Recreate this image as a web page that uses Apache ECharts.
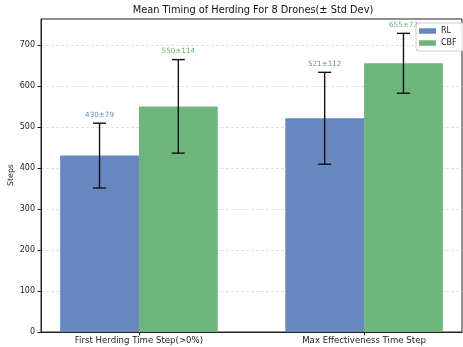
<!DOCTYPE html>
<html>
<head>
<meta charset="utf-8">
<script src="https://cdn.jsdelivr.net/npm/echarts@6/dist/echarts.min.js"></script>
<style>
  html, body { margin: 0; padding: 0; background: #fff; }
  #chart { width: 463px; height: 347px; }
</style>
</head>
<body>
<div id="chart"></div>
<script>
// Group labels along the x axis
const categories = ['First Herding Time Step(>0%)', 'Max Effectiveness Time Step'];
// Mean steps and standard deviation for each method
const rlMean = [430, 521];
const rlStd = [79, 112];
const cbfMean = [550, 655];
const cbfStd = [114, 73];
// Y tick values
const yTicks = [0, 100, 200, 300, 400, 500, 600, 700];

const BAR_W = 0.35;
const FONT = 'DejaVu Sans';
const colors = { RL: '#6788BF', CBF: '#6DB57D' };

function makeData(means, stds) {
  return means.map((m, i) => [i, m, stds[i]]);
}

// offset: -1 for the left bar of a group, 0 for the right bar
function barRenderer(offset, color) {
  return function (params, api) {
    const x = api.value(0), mean = api.value(1), sd = api.value(2);
    const x0 = x + offset * BAR_W, x1 = x0 + BAR_W, xc = x0 + BAR_W / 2;
    const pTop = api.coord([x0, mean]);
    const pBot = api.coord([x1, 0]);
    const eHi = api.coord([xc, mean + sd]);
    const eLo = api.coord([xc, mean - sd]);
    const cap = 6.5;
    return {
      type: 'group',
      children: [
        { type: 'rect', shape: { x: pTop[0], y: pTop[1], width: pBot[0] - pTop[0], height: pBot[1] - pTop[1] },
          style: { fill: color } },
        { type: 'line', shape: { x1: eHi[0], y1: eHi[1], x2: eLo[0], y2: eLo[1] },
          style: { stroke: '#111', lineWidth: 1.4 } },
        { type: 'line', shape: { x1: eHi[0] - cap, y1: eHi[1], x2: eHi[0] + cap, y2: eHi[1] },
          style: { stroke: '#111', lineWidth: 1.4 } },
        { type: 'line', shape: { x1: eLo[0] - cap, y1: eLo[1], x2: eLo[0] + cap, y2: eLo[1] },
          style: { stroke: '#111', lineWidth: 1.4 } },
        { type: 'text', x: eHi[0], y: eHi[1] - 5,
          style: { text: mean + '±' + sd, fill: color, font: '7.2px "' + FONT + '"', align: 'center', verticalAlign: 'bottom' } }
      ]
    };
  };
}

const chart = echarts.init(document.getElementById('chart'), null, { renderer: 'canvas' });
chart.setOption({
  animation: false,
  backgroundColor: '#fff',
  textStyle: { fontFamily: FONT },
  title: {
    text: 'Mean Timing of Herding For 8 Drones(± Std Dev)',
    left: 253, top: 5, textAlign: 'center', padding: 0,
    textStyle: { fontSize: 9.8, fontWeight: 'normal', color: '#111', fontFamily: FONT }
  },
  // Y-axis title, rotated beside the tick labels
  graphic: [{
    type: 'text', x: 11, y: 175, rotation: Math.PI / 2,
    style: { text: 'Steps', fill: '#222', font: '7.8px "' + FONT + '"', align: 'center', verticalAlign: 'middle' }
  }],
  legend: {
    left: 416, top: 23, orient: 'vertical',
    data: [{ name: 'RL', icon: 'rect' }, { name: 'CBF', icon: 'rect' }],
    itemWidth: 17, itemHeight: 5.5, itemGap: 4,
    padding: [4, 8, 4, 3],
    backgroundColor: 'rgba(255,255,255,0.85)', borderColor: '#ccc', borderWidth: 1, borderRadius: 3,
    textStyle: { fontSize: 8, color: '#222', fontFamily: FONT }
  },
  grid: { left: 41, right: 1, top: 19, bottom: 15, containLabel: false, outerBoundsMode: 'none',
          show: true, borderColor: '#222', borderWidth: 1 },
  xAxis: {
    type: 'value', min: -0.435, max: 1.435,
    splitLine: { show: false },
    axisLine: { onZero: false, lineStyle: { color: '#222' } },
    axisTick: { customValues: [0, 1], length: 3.5, lineStyle: { color: '#222' } },
    axisLabel: { customValues: [0, 1], formatter: v => categories[Math.round(v)], fontSize: 8.6, color: '#222', margin: 4 }
  },
  yAxis: {
    type: 'value', min: 0, max: 763,
    axisLine: { show: true, onZero: false, lineStyle: { color: '#222' } },
    axisTick: { show: true, customValues: yTicks, length: 3.5, lineStyle: { color: '#222' } },
    axisLabel: { customValues: yTicks, fontSize: 8, color: '#222', margin: 6 },
    splitLine: { show: true, customValues: yTicks, lineStyle: { color: '#d8d8d8', type: [3, 2], width: 0.8 } }
  },
  series: [
    { name: 'RL', type: 'custom', itemStyle: { color: colors.RL },
      data: makeData(rlMean, rlStd), renderItem: barRenderer(-1, colors.RL), encode: { x: 0, y: 1 } },
    { name: 'CBF', type: 'custom', itemStyle: { color: colors.CBF },
      data: makeData(cbfMean, cbfStd), renderItem: barRenderer(0, colors.CBF), encode: { x: 0, y: 1 } }
  ]
});
</script>
</body>
</html>
